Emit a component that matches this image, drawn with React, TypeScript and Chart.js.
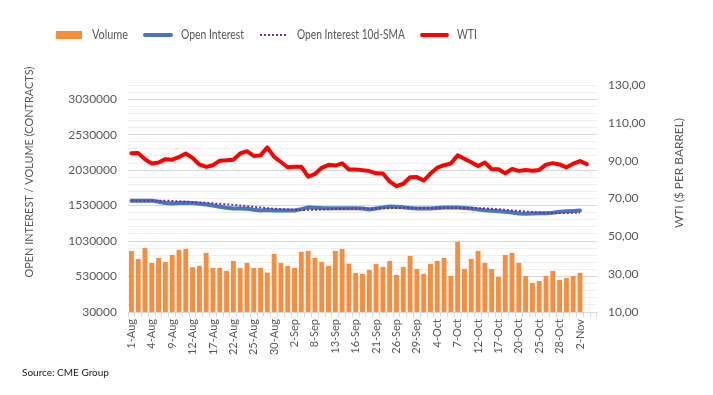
import React, { useEffect, useRef } from 'react';
import { Chart, registerables } from 'chart.js';
Chart.register(...registerables);

const dates = ['1-Aug','2-Aug','3-Aug','4-Aug','5-Aug','8-Aug','9-Aug','10-Aug','11-Aug','12-Aug','15-Aug','16-Aug','17-Aug','18-Aug','19-Aug','22-Aug','23-Aug','24-Aug','25-Aug','26-Aug','29-Aug','30-Aug','31-Aug','1-Sep','2-Sep','6-Sep','7-Sep','8-Sep','9-Sep','12-Sep','13-Sep','14-Sep','15-Sep','16-Sep','19-Sep','20-Sep','21-Sep','22-Sep','23-Sep','26-Sep','27-Sep','28-Sep','29-Sep','30-Sep','3-Oct','4-Oct','5-Oct','6-Oct','7-Oct','10-Oct','11-Oct','12-Oct','13-Oct','14-Oct','17-Oct','18-Oct','19-Oct','20-Oct','21-Oct','24-Oct','25-Oct','26-Oct','27-Oct','28-Oct','31-Oct','1-Nov','2-Nov','3-Nov','4-Nov'];

const volume = [891000,779000,934000,722000,793000,736000,835000,906000,920000,661000,680000,863000,651000,651000,609000,750000,651000,722000,651000,651000,585000,849000,722000,680000,651000,877000,891000,793000,736000,680000,891000,920000,712000,581000,567000,623000,708000,666000,750000,553000,666000,821000,637000,567000,708000,750000,793000,538000,1019000,637000,779000,891000,722000,637000,524000,835000,863000,722000,538000,440000,468000,538000,609000,482000,510000,538000,581000];

const openInterest = [1600000,1600000,1600000,1600000,1585000,1565000,1560000,1565000,1570000,1565000,1555000,1545000,1530000,1515000,1500000,1490000,1490000,1485000,1470000,1462000,1468000,1462000,1460000,1460000,1462000,1480000,1505000,1500000,1495000,1493000,1494000,1494000,1494000,1494000,1490000,1475000,1490000,1505000,1518000,1512000,1505000,1495000,1490000,1490000,1490000,1497000,1502000,1503000,1503000,1495000,1488000,1475000,1465000,1458000,1450000,1442000,1432000,1420000,1414000,1418000,1422000,1423000,1430000,1442000,1450000,1455000,1461000];

const oiSma = [1600000,1600000,1600000,1600000,1600000,1600000,1595000,1590000,1585000,1580000,1575000,1570000,1562000,1555000,1548000,1540000,1530000,1522000,1512000,1502000,1494000,1486000,1480000,1475000,1470000,1468000,1470000,1472000,1475000,1478000,1482000,1485000,1488000,1490000,1492000,1490000,1490000,1492000,1494000,1496000,1498000,1498000,1497000,1497000,1497000,1497000,1497000,1497000,1497000,1497000,1496000,1493000,1490000,1485000,1478000,1470000,1462000,1455000,1446000,1438000,1432000,1427000,1424000,1424000,1425000,1428000,1432000];

const wti = [93.9,94.0,90.7,88.5,89.0,90.8,90.5,91.9,93.8,91.5,88.0,86.7,87.6,90.0,90.2,90.5,93.8,95.0,92.5,92.8,97.0,92.0,89.3,86.5,86.8,86.8,81.5,83.0,86.2,87.8,87.4,88.6,85.3,85.3,85.0,84.5,83.3,83.2,79.0,76.5,77.8,81.2,81.3,79.5,83.2,86.3,87.6,88.5,92.8,91.0,89.2,87.2,89.0,85.6,85.5,83.3,85.6,84.6,85.1,84.7,85.1,87.9,88.7,88.0,86.5,88.4,89.8,88.2,null];

const leftTicks = [30000,530000,1030000,1530000,2030000,2530000,3030000];
const rightTicks = [10,30,50,70,90,110,130];

const FONT = 'Lato, "Open Sans", sans-serif';
const GRAY = '#595959';

const overlayPlugin = {
  id: 'overlay',
  afterDraw(chart: any) {
    const ctx = chart.ctx;
    ctx.save();
    // legend
    ctx.font = `13px ${FONT}`;
    ctx.textBaseline = 'middle';
    ctx.textAlign = 'left';
    const ly = 35;
    ctx.fillStyle = '#F68D3F';
    ctx.fillRect(56, 31, 26, 8);
    ctx.fillStyle = GRAY;
    ctx.fillText('Volume', 92, ly, 36);
    ctx.strokeStyle = '#4A76C0';
    ctx.lineWidth = 4;
    ctx.lineCap = 'round';
    ctx.beginPath(); ctx.moveTo(145, ly); ctx.lineTo(171, ly); ctx.stroke();
    ctx.fillText('Open Interest', 181, ly, 63);
    ctx.strokeStyle = '#7030A0';
    ctx.lineWidth = 2;
    ctx.lineCap = 'butt';
    ctx.setLineDash([2, 2]);
    ctx.beginPath(); ctx.moveTo(260, ly); ctx.lineTo(287, ly); ctx.stroke();
    ctx.setLineDash([]);
    ctx.fillText('Open Interest 10d-SMA', 297, ly, 108);
    ctx.strokeStyle = '#FF0000';
    ctx.lineWidth = 4;
    ctx.lineCap = 'round';
    ctx.beginPath(); ctx.moveTo(422, ly); ctx.lineTo(447, ly); ctx.stroke();
    ctx.fillText('WTI', 457, ly, 20);

    // axis titles
    ctx.font = `12px ${FONT}`;
    ctx.textAlign = 'center';
    ctx.fillStyle = GRAY;
    ctx.save();
    ctx.translate(29, 172);
    ctx.rotate(-Math.PI / 2);
    ctx.fillText('OPEN INTEREST / VOLUME (CONTRACTS)', 0, 0, 211);
    ctx.restore();
    ctx.save();
    ctx.translate(679, 173);
    ctx.rotate(-Math.PI / 2);
    ctx.fillText('WTI ($ PER BARREL)', 0, 0, 110);
    ctx.restore();

    // source
    ctx.textAlign = 'left';
    ctx.font = `10px ${FONT}`;
    ctx.fillStyle = '#1a1a1a';
    ctx.fillText('Source: CME Group', 22, 373, 88);
    ctx.restore();
  },
};

export default function App() {
  const ref = useRef<HTMLCanvasElement | null>(null);
  useEffect(() => {
    if (!ref.current) return;
    const chart = new Chart(ref.current, {
      type: 'bar',
      data: {
        labels: dates,
        datasets: [
          {
            type: 'line', label: 'WTI', data: wti, yAxisID: 'y1', order: 0,
            borderColor: '#FF0000', borderWidth: 4, pointRadius: 0, tension: 0,
            borderJoinStyle: 'round', borderCapStyle: 'round', spanGaps: false,
          },
          {
            type: 'line', label: 'Open Interest 10d-SMA', data: oiSma, yAxisID: 'y', order: 1,
            borderColor: '#7030A0', borderWidth: 2, borderDash: [2, 2], pointRadius: 0, tension: 0,
          },
          {
            type: 'line', label: 'Open Interest', data: openInterest, yAxisID: 'y', order: 2,
            borderColor: '#4A76C0', borderWidth: 4, pointRadius: 0, tension: 0,
            borderJoinStyle: 'round', borderCapStyle: 'round',
          },
          {
            type: 'bar', label: 'Volume', data: volume, yAxisID: 'y', order: 3,
            backgroundColor: '#F68D3F', barPercentage: 0.9, categoryPercentage: 0.8,
          },
        ] as any,
      },
      options: {
        responsive: false,
        animation: false,
        layout: { padding: { top: 85, left: 0, right: 0, bottom: 0 } },
        plugins: { legend: { display: false }, tooltip: { enabled: false } },
        scales: {
          x: {
            offset: true,
            grid: { offset: true, drawOnChartArea: false, drawTicks: true, tickLength: 5, color: '#d9d9d9' },
            border: { display: true, color: '#d9d9d9' },
            ticks: {
              autoSkip: false, maxRotation: 90, minRotation: 90, padding: 2,
              color: GRAY, font: { family: FONT, size: 11 },
              callback: (_v: any, i: number) => (i % 3 === 0 ? dates[i] : ''),
            },
            afterFit: (s: any) => { s.height = 83; },
          },
          y: {
            position: 'left', min: 30000, max: 3230000,
            border: { display: false },
            grid: {
              drawTicks: false,
              color: (c: any) => (leftTicks.includes(c.tick?.value) ? '#d9d9d9' : '#f0f0f0'),
              lineWidth: 1,
            },
            ticks: {
              autoSkip: false,
              stepSize: 100000, padding: 11, color: GRAY, font: { family: FONT, size: 12 },
              callback: (v: any) => (leftTicks.includes(v) ? String(v) : ''),
            },
            afterFit: (s: any) => { s.width = 128; },
          },
          y1: {
            position: 'right', min: 10, max: 130,
            border: { display: false },
            grid: { drawOnChartArea: false, drawTicks: false },
            ticks: {
              autoSkip: false,
              stepSize: 20, padding: 11, color: GRAY, font: { family: FONT, size: 12 },
              callback: (v: any) => (rightTicks.includes(v) ? Number(v).toFixed(2).replace('.', ',') : ''),
            },
            afterFit: (s: any) => { s.width = 116; },
          },
        },
      } as any,
      plugins: [overlayPlugin],
    });
    return () => chart.destroy();
  }, []);
  return (
    <div style={{ position: 'absolute', left: 0, top: 0, width: 713, height: 395, background: '#fff' }}>
      <canvas ref={ref} width={713} height={395} />
    </div>
  );
}
